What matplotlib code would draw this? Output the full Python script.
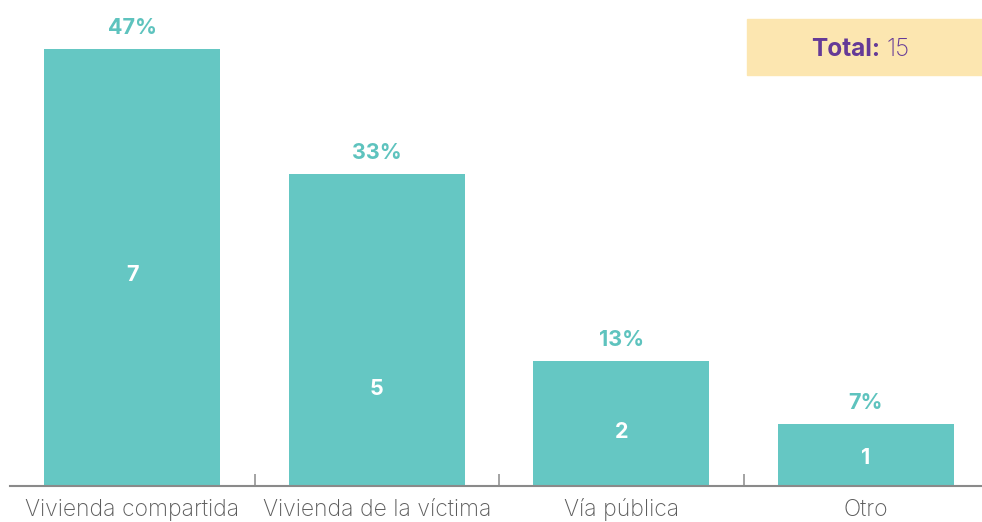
import matplotlib
matplotlib.use('Agg')
import matplotlib.pyplot as plt
from matplotlib.transforms import blended_transform_factory

# datos
categorias = ['Vivienda compartida', 'Vivienda de la víctima', 'Vía pública', 'Otro']
casos = [7, 5, 2, 1]
porcentajes = ['47%', '33%', '13%', '7%']
total = 15

# altura de las etiquetas internas (en unidades de casos)
alto_etiqueta = [3.38, 1.55, 0.86, 0.44]

TEAL = '#65C7C3'
TEAL_TXT = '#5EC3BE'
MORADO = '#653A97'
GRIS = '#5c5c5c'

plt.rcParams['font.family'] = ['Inter', 'DejaVu Sans']

fig = plt.figure(figsize=(9.82, 5.22), dpi=100)
ax = fig.add_axes([10 / 982, 36 / 522, 978 / 982, 486 / 522])

x = range(len(categorias))
ax.bar(x, casos, width=0.72, color=TEAL, zorder=2)

for i, (v, p) in enumerate(zip(casos, porcentajes)):
    ax.annotate(p, (i, v), xytext=(0, 15), textcoords='offset points',
                ha='center', va='center', fontsize=15.5, fontweight='bold', color=TEAL_TXT)
    ax.text(i, alto_etiqueta[i], str(v), ha='center', va='center',
            fontsize=15.5, fontweight='bold', color='white')

ax.set_xlim(-0.5, 3.5)
ax.set_ylim(0, 486 / 62.5)

for s in ['top', 'right', 'left']:
    ax.spines[s].set_visible(False)
ax.spines['bottom'].set_color('#8a8a8a')
ax.spines['bottom'].set_linewidth(1.5)
ax.set_yticks([])

# etiquetas de categoria alineadas por la linea base
ax.set_xticks([])
trans = blended_transform_factory(ax.transData, fig.transFigure)
for i, c in enumerate(categorias):
    ax.text(i, 1 - 516 / 522, c, transform=trans, ha='center', va='baseline',
            fontsize=16.5, fontweight='light', color=GRIS)
ax.set_xticks([0.5, 1.5, 2.5], minor=True)
ax.tick_params(axis='x', which='minor', direction='in', length=8.5, width=1.1,
               color='#8a8a8a', labelbottom=False)

# caja total
fig.patches.append(plt.Rectangle((747 / 982, 1 - 75 / 522), 235 / 982, 56 / 522,
                                 transform=fig.transFigure, color='#FCE6B0', zorder=0))
t1 = fig.text(811 / 982, 1 - 50 / 522, 'Total:', fontsize=17.5, fontweight='bold',
              color=MORADO, ha='left', va='center')
fig.canvas.draw()
bb = t1.get_window_extent()
fig.text((bb.x1 + 7) / 982, 1 - 50 / 522, str(total), fontsize=17.5,
         fontweight='light', color=MORADO, ha='left', va='center')

fig.savefig('out.png', dpi=100)
